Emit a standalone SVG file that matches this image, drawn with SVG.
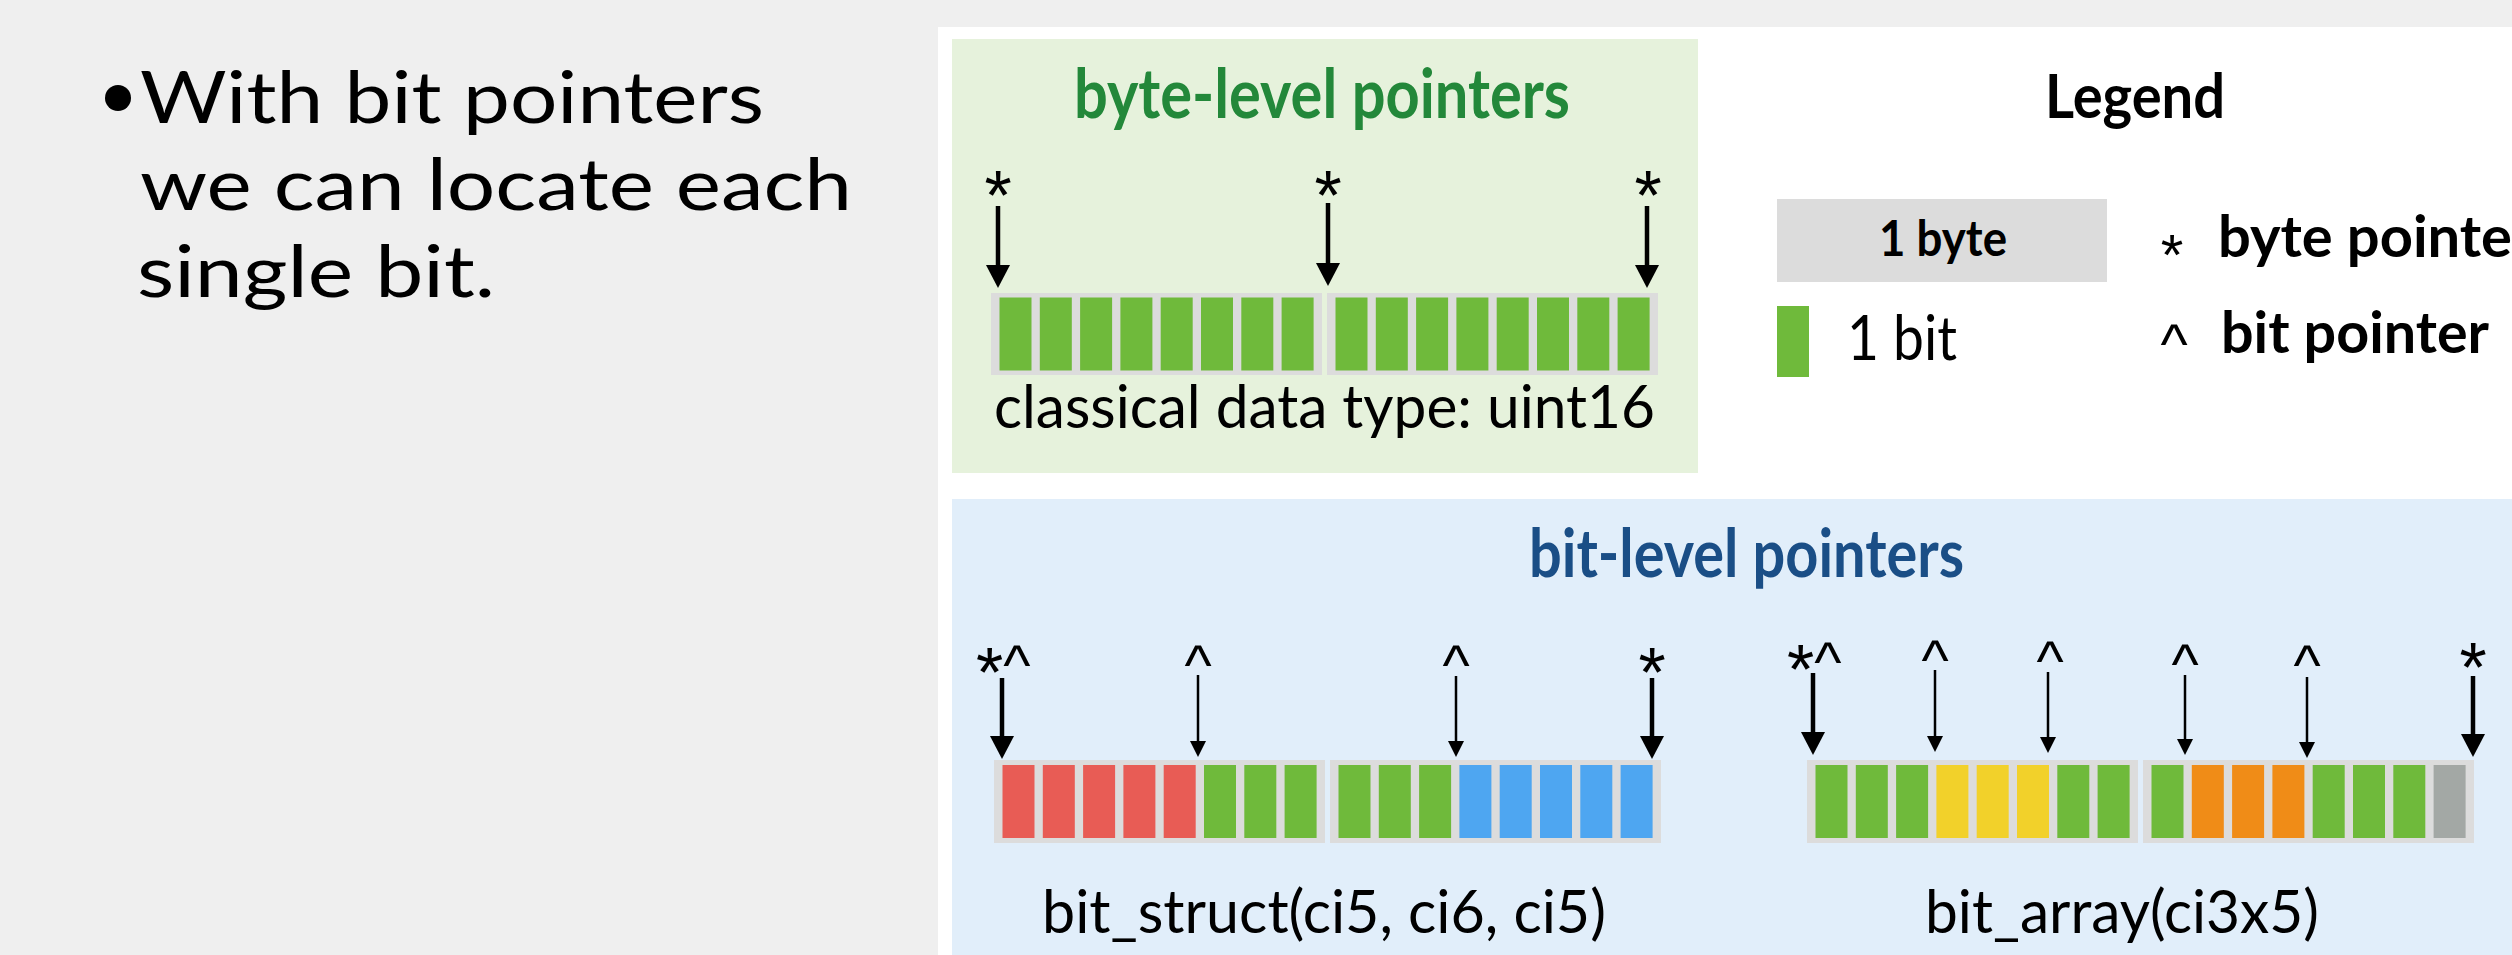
<svg xmlns="http://www.w3.org/2000/svg" width="2512" height="955" viewBox="0 0 2512 955">
<defs>
<style>
.txt{font-family:Lato,"Open Sans","Liberation Sans",sans-serif;fill:#000}
.bold{font-weight:700}
.ptr{font-family:"Liberation Sans",Arial,sans-serif;font-size:58px;fill:#000}
.ast{font-size:70px}
.cont{fill:#dcdcdc}
.g{fill:#6fba3b}
.r{fill:#e85c55}
.bl{fill:#4ea6f1}
.y{fill:#f2d12a}
.o{fill:#f08c17}
.gr{fill:#a3a8a5}
.thick{stroke:#000;stroke-width:4.5;fill:none;marker-end:url(#headThick)}
.thin{stroke:#000;stroke-width:2.5;fill:none;marker-end:url(#headThin)}
</style>
<marker id="headThick" markerUnits="userSpaceOnUse" viewBox="0 0 23 24" markerWidth="23" markerHeight="24" refX="13" refY="12" orient="auto">
<path d="M0,0 L23,12 L0,24 z" fill="#000"/>
</marker>
<marker id="headThin" markerUnits="userSpaceOnUse" viewBox="0 0 16 16" markerWidth="16" markerHeight="16" refX="8" refY="8" orient="auto">
<path d="M0,0 L16,8 L0,16 z" fill="#000"/>
</marker>
</defs>
<rect x="0" y="0" width="2512" height="955" fill="#efefef"/>
<rect x="938" y="27" width="1574" height="928" fill="#ffffff"/>

<g id="bullet-text">
<circle cx="118" cy="98" r="13" fill="#000"/>
<text class="txt" x="140" y="123" font-size="72" textLength="624" lengthAdjust="spacingAndGlyphs">With bit pointers</text>
<text class="txt" x="140" y="210" font-size="72" textLength="712" lengthAdjust="spacingAndGlyphs">we can locate each</text>
<text class="txt" x="137" y="297" font-size="72" textLength="358" lengthAdjust="spacingAndGlyphs">single bit.</text>
</g>

<g id="byte-level-panel">
<rect x="952" y="39" width="746" height="434" fill="#e6f2dc"/>
<text class="txt bold" x="1074" y="118" font-size="68" style="fill:#23883a" textLength="496" lengthAdjust="spacingAndGlyphs">byte-level pointers</text>
<text class="ptr ast" x="998" y="220" text-anchor="middle">*</text>
<text class="ptr ast" x="1328" y="220" text-anchor="middle">*</text>
<text class="ptr ast" x="1648" y="220" text-anchor="middle">*</text>
<g id="uint16-row">
<rect class="cont" x="991" y="293" width="331" height="82"/>
<rect class="cont" x="1327" y="293" width="331" height="82"/>
<rect class="g" x="999.5" y="297.5" width="32" height="73"/>
<rect class="g" x="1039.8" y="297.5" width="32" height="73"/>
<rect class="g" x="1080.1" y="297.5" width="32" height="73"/>
<rect class="g" x="1120.4" y="297.5" width="32" height="73"/>
<rect class="g" x="1160.7" y="297.5" width="32" height="73"/>
<rect class="g" x="1201" y="297.5" width="32" height="73"/>
<rect class="g" x="1241.3" y="297.5" width="32" height="73"/>
<rect class="g" x="1281.6" y="297.5" width="32" height="73"/>
<rect class="g" x="1335.5" y="297.5" width="32" height="73"/>
<rect class="g" x="1375.8" y="297.5" width="32" height="73"/>
<rect class="g" x="1416.1" y="297.5" width="32" height="73"/>
<rect class="g" x="1456.4" y="297.5" width="32" height="73"/>
<rect class="g" x="1496.7" y="297.5" width="32" height="73"/>
<rect class="g" x="1537" y="297.5" width="32" height="73"/>
<rect class="g" x="1577.3" y="297.5" width="32" height="73"/>
<rect class="g" x="1617.6" y="297.5" width="32" height="73"/>
</g>
<text class="txt" x="994" y="428" font-size="60" textLength="661" lengthAdjust="spacingAndGlyphs">classical data type: uint16</text>
</g>

<g id="legend">
<text class="txt bold" x="2045" y="118" font-size="62" textLength="180" lengthAdjust="spacingAndGlyphs">Legend</text>
<rect class="cont" x="1777" y="199" width="330" height="83"/>
<text class="txt bold" x="1879" y="256" font-size="50" textLength="128" lengthAdjust="spacingAndGlyphs">1 byte</text>
<rect class="g" x="1777" y="306" width="32" height="71"/>
<text class="txt" x="1847" y="360" font-size="62" textLength="110" lengthAdjust="spacingAndGlyphs">1 bit</text>
<text class="ptr" x="2172" y="275" text-anchor="middle">*</text>
<text class="txt bold" x="2218" y="257" font-size="58" textLength="294" lengthAdjust="spacingAndGlyphs">byte pointe</text>
<text class="ptr" x="2174" y="364" text-anchor="middle">^</text>
<text class="txt bold" x="2221" y="353" font-size="58" textLength="268" lengthAdjust="spacingAndGlyphs">bit pointer</text>
</g>

<g id="bit-level-panel">
<rect x="952" y="499" width="1560" height="456" fill="#e1eefa"/>
<text class="txt bold" x="1529" y="577" font-size="66" style="fill:#1a4e86" textLength="435" lengthAdjust="spacingAndGlyphs">bit-level pointers</text>

<g id="bit-struct-row">
<text class="ptr" x="976" y="685"><tspan class="ast" dy="12">*</tspan><tspan dy="-12">^</tspan></text>
<text class="ptr" x="1198" y="685" text-anchor="middle">^</text>
<text class="ptr" x="1456" y="685" text-anchor="middle">^</text>
<text class="ptr ast" x="1652" y="697" text-anchor="middle">*</text>
<rect class="cont" x="994" y="760" width="331" height="83"/>
<rect class="cont" x="1330" y="760" width="331" height="83"/>
<rect class="r" x="1002.5" y="765" width="32" height="73"/>
<rect class="r" x="1042.8" y="765" width="32" height="73"/>
<rect class="r" x="1083.1" y="765" width="32" height="73"/>
<rect class="r" x="1123.4" y="765" width="32" height="73"/>
<rect class="r" x="1163.7" y="765" width="32" height="73"/>
<rect class="g" x="1204" y="765" width="32" height="73"/>
<rect class="g" x="1244.3" y="765" width="32" height="73"/>
<rect class="g" x="1284.6" y="765" width="32" height="73"/>
<rect class="g" x="1338.5" y="765" width="32" height="73"/>
<rect class="g" x="1378.8" y="765" width="32" height="73"/>
<rect class="g" x="1419.1" y="765" width="32" height="73"/>
<rect class="bl" x="1459.4" y="765" width="32" height="73"/>
<rect class="bl" x="1499.7" y="765" width="32" height="73"/>
<rect class="bl" x="1540" y="765" width="32" height="73"/>
<rect class="bl" x="1580.3" y="765" width="32" height="73"/>
<rect class="bl" x="1620.6" y="765" width="32" height="73"/>
<text class="txt" x="1042" y="933" font-size="60" textLength="564" lengthAdjust="spacingAndGlyphs">bit_struct(ci5, ci6, ci5)</text>
</g>

<g id="bit-array-row">
<text class="ptr" x="1787" y="682"><tspan class="ast" dy="12">*</tspan><tspan dy="-12">^</tspan></text>
<text class="ptr" x="1935" y="680" text-anchor="middle">^</text>
<text class="ptr" x="2050" y="681" text-anchor="middle">^</text>
<text class="ptr" x="2185" y="684" text-anchor="middle">^</text>
<text class="ptr" x="2307" y="685" text-anchor="middle">^</text>
<text class="ptr ast" x="2473" y="692" text-anchor="middle">*</text>
<rect class="cont" x="1807" y="760" width="331" height="83"/>
<rect class="cont" x="2143" y="760" width="331" height="83"/>
<rect class="g" x="1815.5" y="765" width="32" height="73"/>
<rect class="g" x="1855.8" y="765" width="32" height="73"/>
<rect class="g" x="1896.1" y="765" width="32" height="73"/>
<rect class="y" x="1936.4" y="765" width="32" height="73"/>
<rect class="y" x="1976.7" y="765" width="32" height="73"/>
<rect class="y" x="2017" y="765" width="32" height="73"/>
<rect class="g" x="2057.3" y="765" width="32" height="73"/>
<rect class="g" x="2097.6" y="765" width="32" height="73"/>
<rect class="g" x="2151.5" y="765" width="32" height="73"/>
<rect class="o" x="2191.8" y="765" width="32" height="73"/>
<rect class="o" x="2232.1" y="765" width="32" height="73"/>
<rect class="o" x="2272.4" y="765" width="32" height="73"/>
<rect class="g" x="2312.7" y="765" width="32" height="73"/>
<rect class="g" x="2353" y="765" width="32" height="73"/>
<rect class="g" x="2393.3" y="765" width="32" height="73"/>
<rect class="gr" x="2433.6" y="765" width="32" height="73"/>
<text class="txt" x="1925" y="933" font-size="60" textLength="394" lengthAdjust="spacingAndGlyphs">bit_array(ci3x5)</text>
</g>
</g>

<g id="connectors">
<line class="thick" x1="998" y1="206" x2="998" y2="278"/>
<line class="thick" x1="1328" y1="203" x2="1328" y2="276"/>
<line class="thick" x1="1647" y1="206" x2="1647" y2="278"/>
<line class="thick" x1="1002" y1="678" x2="1002" y2="749"/>
<line class="thin" x1="1198" y1="675" x2="1198" y2="749"/>
<line class="thin" x1="1456" y1="676" x2="1456" y2="749"/>
<line class="thick" x1="1652" y1="678" x2="1652" y2="749"/>
<line class="thick" x1="1813" y1="673" x2="1813" y2="745"/>
<line class="thin" x1="1935" y1="670" x2="1935" y2="744"/>
<line class="thin" x1="2048" y1="672" x2="2048" y2="745"/>
<line class="thin" x1="2185" y1="675" x2="2185" y2="747"/>
<line class="thin" x1="2307" y1="677" x2="2307" y2="750"/>
<line class="thick" x1="2473" y1="676" x2="2473" y2="747"/>
</g>
</svg>
